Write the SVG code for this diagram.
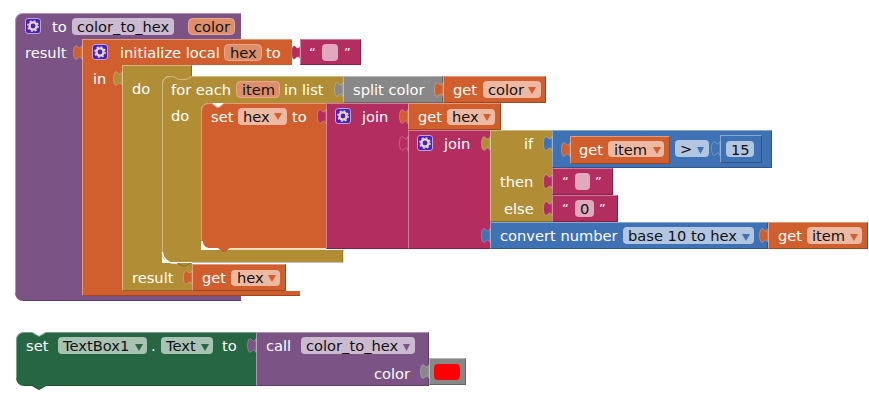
<svg xmlns="http://www.w3.org/2000/svg" width="869" height="407" viewBox="0 0 869 407">
<style>
text{font-family:"DejaVu Sans",sans-serif;font-size:14.67px;fill:#fff}
.f{fill:#111}
.q{font-size:13px}
.pu{fill:#7c5385}.or{fill:#d05f2d}.ol{fill:#b18e35}.pk{fill:#b32d5e}.bl{fill:#3f71b5}.gy{fill:#888}.gr{fill:#266643}
.hl{fill:none;stroke:#fff;stroke-opacity:.38;stroke-width:1}
.sh{fill:none;stroke:#000;stroke-opacity:.25;stroke-width:1}
.fo{fill:#edb9a2}.fod{fill:#df8e6b;stroke:#e8a98e}.fp{fill:#cbbad0}.fk{fill:#e1a9be}.fb{fill:#b2c6e1}.fg{fill:#a8c2b4}.tri{stroke:none}
.t{stroke:#fff;stroke-opacity:.25;stroke-width:1}
</style>
<defs>
<path id="tab" d="M0,0.500C-1,4 -3,3.500 -5,1C-7,-0.500 -8.500,3 -8.500,7.500C-8.500,12 -7,15.500 -5,14C-3,11.500 -1,11 0,14.500z"/>
<g id="gear">
<rect x="0.5" y="0.5" width="15" height="15" rx="2.5" fill="#4a1fbd" stroke="#b9a6dd"/>
<circle cx="8" cy="8" r="3.6" fill="none" stroke="#e6d6c8" stroke-width="2.4"/>
<circle cx="8" cy="8" r="5.2" fill="none" stroke="#e6d6c8" stroke-width="1.4" stroke-dasharray="2 2.08"/>
</g>
</defs>

<g id="proc-color-to-hex">
<path class="pu" d="M23,13H241V39H82V296H241V301H23a8,8 0 0 1 -8,-8V21a8,8 0 0 1 8,-8z"/>
<path class="hl" d="M15.500,293V21a7.500,7.500 0 0 1 7.500,-7.500H241"/>
<path class="sh" d="M23,300.500H241"/>
<use href="#gear" x="25" y="18"/>
<text x="52" y="32">to</text>
<rect class="fp" x="72" y="18" width="102" height="17" rx="4"/>
<text class="f" x="77" y="32">color_to_hex</text>
<rect class="fod" x="188.500" y="18.500" width="46" height="16" rx="4"/>
<text class="f" x="194" y="32">color</text>
<text x="25" y="58">result</text>
</g>

<g id="init-local">
<path class="or" d="M82,39H292V65H122V291H300V296H82z"/>
<path class="hl" d="M82.500,296V39.500H292"/>
<path class="sh" d="M82,295.500H300"/>
<use href="#tab" class="or t" x="82" y="45"/>
<use href="#gear" x="92" y="44"/>
<text x="120" y="58">initialize local</text>
<rect class="fod" x="224.500" y="44.500" width="37" height="16" rx="4"/>
<text class="f" x="230" y="58">hex</text>
<text x="266" y="58">to</text>
<text x="93" y="84">in</text>
</g>

<g id="str-empty-1">
<rect class="pk" x="300" y="39" width="61" height="26"/>
<path class="hl" d="M300.500,65V39.500H361"/>
<path class="sh" d="M360.500,39V64.500H300"/>
<use href="#tab" class="pk t" x="300" y="45"/>
<text class="q" x="309" y="57">“</text>
<rect class="fk" x="322" y="44" width="16" height="17" rx="4"/>
<text class="q" x="344" y="57">”</text>
</g>

<g id="do-result">
<path class="ol" d="M122,65H192V76H170a8,8 0 0 0 -8,8V263H192V291H122z"/>
<path class="hl" d="M122.500,291V65.500H192"/>
<path class="sh" d="M122,290.500H192M191.500,65V76"/>
<use href="#tab" class="ol t" x="122" y="71"/>
<text x="132" y="94">do</text>
<text x="132" y="283">result</text>
</g>

<g id="get-hex-result">
<rect class="or" x="192" y="264" width="94" height="27"/>
<path class="hl" d="M192.500,291V264.500H286"/>
<path class="sh" d="M285.500,264V290.500H192"/>
<use href="#tab" class="or t" x="192" y="270"/>
<text x="202" y="283">get</text>
<rect class="fo" x="231" y="270" width="49" height="16" rx="4"/>
<text class="f" x="237" y="283">hex</text>
<path class="or tri" d="M268,275h8l-4,7z"/>
</g>

<g id="for-each">
<path class="ol" d="M170,76H343V103H209a8,8 0 0 0 -8,8V250H343V262H170a8,8 0 0 1 -8,-8V84a8,8 0 0 1 8,-8z"/>
<path class="hl" d="M162.500,254V84a7.500,7.500 0 0 1 7.500,-7.500h3l6,3h7l6,-3H343"/>
<path class="sh" d="M192,262.500H343V250"/>
<path d="M162.500,252a11,11 0 0 0 11,11h4" fill="none" stroke="#fff" stroke-width="1.500"/>
<path class="sh" d="M177,263l6,3h2l6,-3"/>
<text x="171" y="95">for each</text>
<rect class="fod" x="236.500" y="81.500" width="43" height="16" rx="4"/>
<text class="f" x="242" y="95">item</text>
<text x="284" y="95">in list</text>
<text x="171" y="121">do</text>
</g>

<g id="split-color">
<rect class="gy" x="343" y="76" width="100" height="27"/>
<path class="hl" d="M343.500,103V76.500H443"/>
<path class="sh" d="M442.500,76V102.500H343"/>
<use href="#tab" class="gy t" x="343" y="82"/>
<text x="353" y="95">split color</text>
</g>

<g id="get-color">
<rect class="or" x="443" y="76" width="103" height="27"/>
<path class="hl" d="M443.500,103V76.500H546"/>
<path class="sh" d="M545.500,76V102.500H443"/>
<use href="#tab" class="or t" x="443" y="82"/>
<text x="453" y="95">get</text>
<rect class="fo" x="483" y="81" width="58" height="17" rx="4"/>
<text class="f" x="488" y="95">color</text>
<path class="or tri" d="M528,87h8l-4,7z"/>
</g>

<g id="set-hex">
<path class="or" d="M209,103H212l5,4h2l5,-4H326V248H230l-5,4h-2l-5,-4H209a8,8 0 0 1 -8,-8V111a8,8 0 0 1 8,-8z"/>
<path class="hl" d="M201.500,240V111a7.500,7.500 0 0 1 7.500,-7.500h3l5,4h2l5,-4H326"/>
<path d="M202,241a8,8 0 0 0 8,8h8" fill="none" stroke="#fff" stroke-width="1.500"/>
<path d="M230,249H326" fill="none" stroke="#e9dfc0" stroke-width="2"/>
<text x="211" y="122">set</text>
<rect class="fo" x="238" y="108" width="49" height="17" rx="4"/>
<text class="f" x="243" y="122">hex</text>
<path class="or tri" d="M274,113h8l-4,7z"/>
<text x="292" y="122">to</text>
</g>

<g id="join-outer">
<rect class="pk" x="326" y="103" width="82" height="146"/>
<path class="hl" d="M326.500,249V103.500H408"/>
<path class="sh" d="M326,248.500H408"/>
<use href="#tab" class="pk t" x="326" y="109"/>
<use href="#gear" x="335" y="108"/>
<text x="362" y="122">join</text>
</g>

<g id="get-hex-join">
<rect class="or" x="408" y="103" width="93" height="27"/>
<path class="hl" d="M408.500,130V103.500H501"/>
<path class="sh" d="M500.500,103V129.500H408"/>
<use href="#tab" class="or t" x="408" y="109"/>
<text x="418" y="122">get</text>
<rect class="fo" x="447" y="109" width="48" height="16" rx="4"/>
<text class="f" x="452" y="122">hex</text>
<path class="or tri" d="M483,114h8l-4,7z"/>
</g>

<g id="join-inner">
<rect class="pk" x="408" y="130" width="82" height="119"/>
<path class="hl" d="M408.500,249V130.500H490"/>
<path class="sh" d="M408,248.500H490"/>
<use href="#tab" class="pk t" x="408" y="136"/>
<use href="#gear" x="417" y="135"/>
<text x="444" y="149">join</text>
</g>

<g id="if-then-else">
<rect class="ol" x="490" y="130" width="62" height="92"/>
<path class="hl" d="M490.500,222V130.500H552"/>
<path class="sh" d="M490,221.500H552"/>
<use href="#tab" class="ol t" x="490" y="136"/>
<text x="524" y="149">if</text>
<text x="500" y="187">then</text>
<text x="504" y="214">else</text>
</g>

<g id="compare">
<rect class="bl" x="552" y="130" width="220" height="38"/>
<path class="hl" d="M552.500,168V130.500H772"/>
<path class="sh" d="M771.500,130V167.500H552"/>
<use href="#tab" class="bl t" x="552" y="136"/>
<rect class="fb" x="675" y="140" width="34" height="17" rx="4"/>
<text class="f" x="680" y="154">&gt;</text>
<path class="bl tri" d="M697,147h7l-3.500,7z"/>
</g>

<g id="get-item-compare">
<rect class="or" x="570" y="136" width="100" height="28"/>
<path class="hl" d="M570.500,164V136.500H670"/>
<path class="sh" d="M669.500,136V163.500H570"/>
<use href="#tab" class="or t" x="570" y="142"/>
<text x="579" y="155">get</text>
<rect class="fo" x="608" y="141" width="56" height="16" rx="4"/>
<text class="f" x="614" y="155">item</text>
<path class="or tri" d="M653,147h8l-4,7z"/>
</g>

<g id="num-15">
<rect class="bl" x="720" y="135" width="42" height="28"/>
<path class="hl" d="M720.500,163V135.500H762"/>
<path class="sh" d="M761.500,135V162.500H720"/>
<use href="#tab" class="bl t" x="720" y="141"/>
<rect class="fb" x="726" y="141" width="28" height="16" rx="4"/>
<text class="f" x="731" y="155">15</text>
</g>

<g id="str-empty-2">
<rect class="pk" x="552" y="168" width="61" height="27"/>
<path class="hl" d="M552.500,195V168.500H613"/>
<path class="sh" d="M612.500,168V194.500H552"/>
<use href="#tab" class="pk t" x="552" y="174"/>
<text class="q" x="562" y="186">“</text>
<rect class="fk" x="575" y="173" width="15" height="17" rx="4"/>
<text class="q" x="595" y="186">”</text>
</g>

<g id="str-zero">
<rect class="pk" x="552" y="195" width="66" height="27"/>
<path class="hl" d="M552.500,222V195.500H618"/>
<path class="sh" d="M617.500,195V221.500H552"/>
<use href="#tab" class="pk t" x="552" y="201"/>
<text class="q" x="562" y="213">“</text>
<rect class="fk" x="575" y="200" width="19" height="17" rx="4"/>
<text class="f" x="580" y="214">0</text>
<text class="q" x="599" y="213">”</text>
</g>

<g id="convert">
<rect class="bl" x="490" y="222" width="278" height="27"/>
<path class="hl" d="M490.500,249V222.500H768"/>
<path class="sh" d="M767.500,222V248.500H490"/>
<use href="#tab" class="bl t" x="490" y="228"/>
<text x="500" y="241">convert number</text>
<rect class="fb" x="623" y="227" width="131" height="17" rx="4"/>
<text class="f" x="628" y="241">base 10 to hex</text>
<path class="bl tri" d="M742,234h8l-4,7z"/>
</g>

<g id="get-item-convert">
<rect class="or" x="768" y="222" width="100" height="27"/>
<path class="hl" d="M768.500,249V222.500H868"/>
<path class="sh" d="M867.500,222V248.500H768"/>
<use href="#tab" class="or t" x="768" y="228"/>
<text x="778" y="241">get</text>
<rect class="fo" x="807" y="227" width="55" height="17" rx="4"/>
<text class="f" x="812" y="241">item</text>
<path class="or tri" d="M850,234h8l-4,7z"/>
</g>

<g id="set-textbox">
<path class="gr" d="M24,332h8l7,4 7,-4H256V386H46l-7,4 -7,-4H24a8,8 0 0 1 -8,-8V340a8,8 0 0 1 8,-8z"/>
<path class="hl" d="M16.500,378V340a7.500,7.500 0 0 1 7.500,-7.500h8l7,4 7,-4H256"/>
<path class="sh" d="M24,385.500h8l7,4 7,-4H256"/>
<text x="26" y="351">set</text>
<rect class="fg" x="58" y="337" width="89" height="17" rx="4"/>
<text class="f" x="63" y="351">TextBox1</text>
<path class="gr tri" d="M135,344h8l-4,7z"/>
<text x="151" y="351">.</text>
<rect class="fg" x="161" y="337" width="52" height="17" rx="4"/>
<text class="f" x="166" y="351">Text</text>
<path class="gr tri" d="M201,344h8l-4,7z"/>
<text x="222" y="351">to</text>
</g>

<g id="call-color-to-hex">
<rect class="pu" x="256" y="332" width="173" height="54"/>
<path class="hl" d="M256.500,386V332.500H429"/>
<path class="sh" d="M428.500,332V385.500H256"/>
<use href="#tab" class="pu t" x="256" y="338"/>
<text x="266" y="351">call</text>
<rect class="fp" x="301" y="337" width="114" height="17" rx="4"/>
<text class="f" x="306" y="351">color_to_hex</text>
<path class="pu tri" d="M403,344h7l-3.500,7z"/>
<text x="374" y="379">color</text>
</g>

<g id="color-red">
<rect class="gy" x="429" y="358" width="37" height="27"/>
<path class="hl" d="M429.500,385V358.500H466"/>
<path class="sh" d="M465.500,358V384.500H429"/>
<use href="#tab" class="gy t" x="429" y="364"/>
<rect x="434" y="364" width="26" height="16" rx="4" fill="#f00"/>
</g>
</svg>
